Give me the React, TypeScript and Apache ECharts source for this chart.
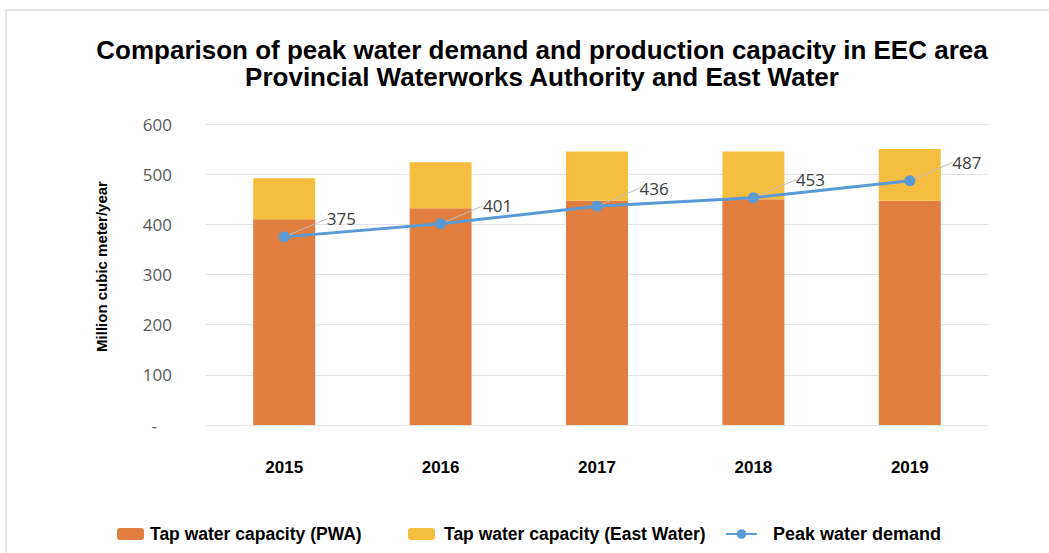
import React, { useEffect, useRef } from "react";
import * as echarts from "echarts";

const years = ["2015", "2016", "2017", "2018", "2019"];
const pwaCapacity = [410, 432, 447, 450, 447];
const eastWaterCapacity = [82, 92, 98, 95, 103];
const peakDemand = [375, 401, 436, 453, 487];
const yTicks = [0, 100, 200, 300, 400, 500, 600];

const TITLE_1 = "Comparison of peak water demand and production capacity in EEC area";
const TITLE_2 = "Provincial Waterworks Authority and East Water";

export default function App() {
  const ref = useRef<HTMLDivElement>(null);
  useEffect(() => {
    if (!ref.current) return;
    const chart = echarts.init(ref.current, null, { renderer: "svg" });
    const legendText = {
      fontFamily: "Liberation Sans, Arial, sans-serif",
      fontWeight: "bold" as const,
      fontSize: 17.5,
      color: "#000",
    };
    chart.setOption({
      animation: false,
      backgroundColor: "#fff",
      title: [
        {
          text: TITLE_1 + "\n" + TITLE_2,
          left: 537,
          top: 31,
          textAlign: "center",
          textStyle: {
            fontFamily: "Liberation Sans, Arial, sans-serif",
            fontWeight: "bold",
            fontSize: 26,
            lineHeight: 27,
            color: "#000",
          },
        },
      ],
      graphic: [
        { type: "line", shape: { x1: 6, y1: 10, x2: 1049, y2: 10 }, style: { stroke: "#E6E6E6", lineWidth: 2 } },
        { type: "line", shape: { x1: 6, y1: 10, x2: 6, y2: 553 }, style: { stroke: "#E6E6E6", lineWidth: 2 } },
      ],
      legend: [
        {
          data: ["Tap water capacity (PWA)"],
          left: 112,
          top: 520,
          itemWidth: 27,
          itemHeight: 12,
          textStyle: { ...legendText, padding: [0, 0, 0, 1] },
        },
        {
          data: ["Tap water capacity (East Water)"],
          left: 403,
          top: 520,
          itemWidth: 27,
          itemHeight: 12,
          textStyle: { ...legendText, padding: [0, 0, 0, 4] },
        },
        {
          data: ["Peak water demand"],
          left: 720,
          top: 520,
          itemWidth: 31,
          itemHeight: 12,
          textStyle: { ...legendText, fontSize: 18, padding: [0, 0, 0, 11] },
        },
      ],
      grid: { left: 206, right: 61, top: 124, bottom: 128 },
      xAxis: {
        type: "category",
        data: years,
        axisLine: { show: false },
        axisTick: { show: false },
        axisLabel: {
          margin: 34,
          fontFamily: "Liberation Sans, Arial, sans-serif",
          fontWeight: "bold",
          fontSize: 17,
          color: "#000",
        },
      },
      yAxis: {
        type: "value",
        min: yTicks[0],
        max: yTicks[yTicks.length - 1],
        interval: 100,
        name: "Million cubic meter/year",
        nameLocation: "middle",
        nameGap: 97,
        nameTextStyle: {
          fontFamily: "Liberation Sans, Arial, sans-serif",
          fontWeight: "bold",
          fontSize: 15,
          color: "#000",
          padding: [0, 0, 0, 16],
        },
        axisLine: { show: false },
        axisTick: { show: false },
        splitLine: { lineStyle: { color: "#E3E3E3", width: 1 } },
        axisLabel: {
          margin: 34,
          fontFamily: "Open Sans, sans-serif",
          fontSize: 17,
          color: "#595959",
          formatter: (v: number) => (v === 0 ? "{z|-}" : String(v)),
          rich: {
            z: {
              fontFamily: "Open Sans, sans-serif",
              fontSize: 17,
              color: "#595959",
              padding: [0, 15, 0, 0],
            },
          },
        },
      },
      series: [
        {
          name: "Tap water capacity (PWA)",
          type: "bar",
          stack: "cap",
          barWidth: 62,
          data: pwaCapacity,
          itemStyle: { color: "#E07F3F" },
        },
        {
          name: "Tap water capacity (East Water)",
          type: "bar",
          stack: "cap",
          barWidth: 62,
          data: eastWaterCapacity,
          itemStyle: { color: "#F6BE3E" },
        },
        {
          name: "Peak water demand",
          type: "line",
          data: peakDemand,
          symbol: "circle",
          symbolSize: 11,
          lineStyle: { color: "#5B9BD5", width: 3 },
          itemStyle: { color: "#5B9BD5" },
          label: {
            show: true,
            position: "right",
            fontFamily: "Open Sans, sans-serif",
            fontSize: 17,
            color: "#404040",
          },
          labelLayout: { dx: 32, dy: -18 },
          labelLine: { show: true, length2: 0, lineStyle: { color: "#BFBFBF", width: 1 } },
          z: 5,
        },
      ],
    });
    return () => chart.dispose();
  }, []);
  return (
    <div
      ref={ref}
      style={{ position: "fixed", left: 0, top: 0, width: 1049, height: 553 }}
    />
  );
}
